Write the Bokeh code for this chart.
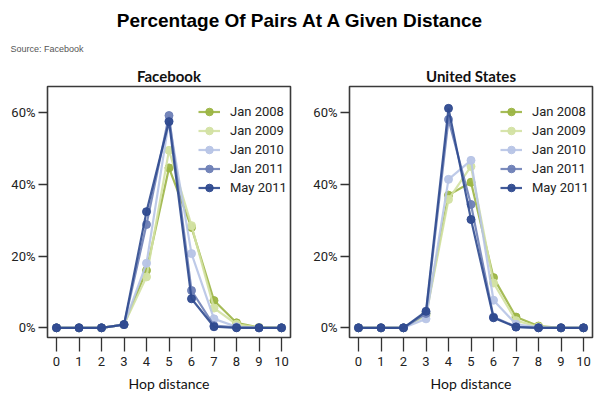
from bokeh.plotting import figure
from bokeh.layouts import column, row
from bokeh.models import Label, FixedTicker, PrintfTickFormatter, Range1d, Legend
from bokeh.embed import file_html
from bokeh.resources import INLINE

hops = [0, 1, 2, 3, 4, 5, 6, 7, 8, 9, 10]
series_names = ["Jan 2008", "Jan 2009", "Jan 2010", "Jan 2011", "May 2011"]
series_colors = ["#9cb545", "#d3e1a3", "#b7c4e6", "#6e80b6", "#2f4a8f"]

fb_jan2008 = [0, 0, 0, 0.9, 16.0, 44.6, 28.0, 7.6, 1.4, 0.1, 0]
fb_jan2009 = [0, 0, 0, 0.9, 14.2, 49.5, 28.5, 5.5, 1.0, 0.1, 0]
fb_jan2010 = [0, 0, 0, 0.9, 18.0, 57.8, 20.7, 2.5, 0.3, 0, 0]
fb_jan2011 = [0, 0, 0, 0.9, 28.8, 59.2, 10.4, 0.6, 0.1, 0, 0]
fb_may2011 = [0, 0, 0, 0.9, 32.4, 57.5, 8.1, 0.3, 0, 0, 0]

us_jan2008 = [0, 0, 0, 4.0, 37.0, 40.6, 14.0, 3.0, 0.5, 0, 0]
us_jan2009 = [0, 0, 0, 3.4, 35.8, 45.0, 12.5, 2.0, 0.3, 0, 0]
us_jan2010 = [0, 0, 0, 2.5, 41.4, 46.7, 7.7, 1.0, 0.1, 0, 0]
us_jan2011 = [0, 0, 0, 4.0, 58.1, 34.4, 3.0, 0.3, 0, 0, 0]
us_may2011 = [0, 0, 0, 4.6, 61.2, 30.2, 2.8, 0.2, 0, 0, 0]

y_ticks = [0, 20, 40, 60]

NARROW = "Roboto"
CAL = "Lato"


def make_panel(title, series, border_left, border_right):
    p = figure(frame_width=243, frame_height=251, output_backend="svg",
               toolbar_location=None, title=title,
               x_range=Range1d(-0.4, 10.4), y_range=Range1d(-2.7, 67.3),
               min_border_left=border_left, min_border_right=border_right,
               min_border_top=27, min_border_bottom=57)
    p.title.align = "center"
    p.title.text_font = CAL
    p.title.text_font_size = "15px"
    p.title.text_font_style = "bold"
    p.title.text_color = "#111111"
    p.title.offset = 0
    p.title.standoff = 4
    p.xgrid.visible = False
    p.ygrid.visible = False
    p.outline_line_color = "#3a3a3a"
    p.outline_line_width = 1.6
    p.outline_line_alpha = 1.0
    p.background_fill_color = "white"
    p.border_fill_color = "white"

    items = []
    for name, color, vals in zip(series_names, series_colors, series):
        l = p.line(hops, vals, line_color=color, line_width=2.2, line_alpha=0.9)
        c = p.scatter(hops, vals, size=8, fill_color=color, line_color=color,
                      fill_alpha=0.95, line_alpha=0.95)
        items.append((name, [l, c]))

    leg = Legend(items=items, location=(151, 140))
    leg.border_line_color = None
    leg.background_fill_alpha = 0
    leg.padding = 0
    leg.margin = 0
    leg.spacing = 0
    leg.glyph_width = 22
    leg.glyph_height = 19
    leg.label_height = 19
    leg.label_standoff = 10
    leg.label_text_font = NARROW
    leg.label_text_font_size = "13px"
    leg.label_text_color = "#222222"
    p.add_layout(leg, "center")

    xa = p.xaxis[0]
    xa.ticker = FixedTicker(ticks=hops)
    xa.axis_line_color = None
    xa.major_tick_in = 0
    xa.major_tick_out = 14
    xa.major_tick_line_color = "#333333"
    xa.major_tick_line_width = 1.3
    xa.minor_tick_line_color = None
    xa.major_label_text_font = NARROW
    xa.major_label_text_font_size = "13px"
    xa.major_label_text_color = "#222222"
    xa.major_label_standoff = 5
    xa.axis_label = "Hop distance"
    xa.axis_label_text_font = CAL
    xa.axis_label_text_font_size = "14px"
    xa.axis_label_text_font_style = "normal"
    xa.axis_label_text_color = "#111111"
    xa.axis_label_standoff = 6

    ya = p.yaxis[0]
    ya.ticker = FixedTicker(ticks=y_ticks)
    ya.formatter = PrintfTickFormatter(format="%d%%")
    ya.axis_line_color = None
    ya.major_tick_in = 0
    ya.major_tick_out = 9
    ya.major_tick_line_color = "#333333"
    ya.major_tick_line_width = 1.3
    ya.minor_tick_line_color = None
    ya.major_label_text_font = NARROW
    ya.major_label_text_font_size = "13px"
    ya.major_label_text_color = "#222222"
    ya.major_label_standoff = 3
    return p


p1 = make_panel("Facebook", [fb_jan2008, fb_jan2009, fb_jan2010, fb_jan2011, fb_may2011], 47, 19)
p2 = make_panel("United States", [us_jan2008, us_jan2009, us_jan2010, us_jan2011, us_may2011], 40, 5)

header = figure(width=596, height=59, output_backend="svg", toolbar_location=None,
                x_range=Range1d(0, 1), y_range=Range1d(0, 1),
                min_border=0)
header.axis.visible = False
header.grid.visible = False
header.outline_line_color = None
header.add_layout(Label(x=300, y=39, x_units="screen", y_units="screen",
                        text="Percentage Of Pairs At A Given Distance",
                        text_font="Liberation Sans", text_font_style="bold",
                        text_font_size="19px", text_align="center",
                        text_baseline="middle", text_color="#000000"))
header.add_layout(Label(x=10, y=11, x_units="screen", y_units="screen",
                        text="Source: Facebook", text_font="Liberation Sans",
                        text_font_size="9px", text_align="left",
                        text_baseline="middle", text_color="#555555"))

layout = column(header, row(p1, p2, spacing=0), spacing=0)

html = file_html(layout, INLINE)
with open("out.html", "w") as f:
    f.write(html)
